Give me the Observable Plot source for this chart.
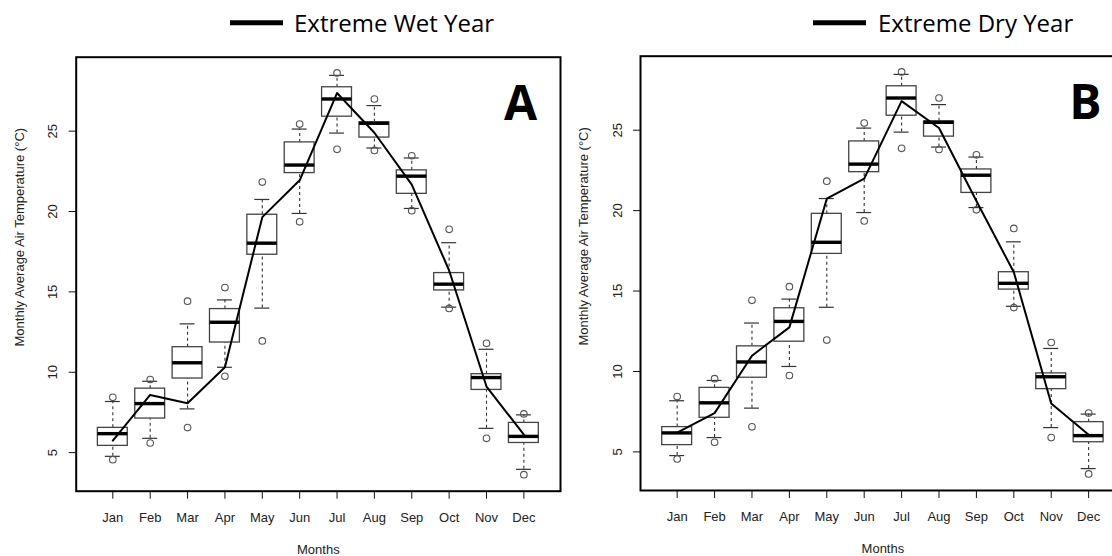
<!DOCTYPE html>
<html>
<head>
<meta charset="utf-8">
<script src="https://cdn.jsdelivr.net/npm/d3@7"></script>
<script src="https://cdn.jsdelivr.net/npm/@observablehq/plot@0.6"></script>
<style>
  html, body { margin: 0; padding: 0; background: #fff; }
  #chart { position: relative; width: 1112px; height: 556px; overflow: hidden; background: #fff; }
  #chart > svg, #chart > .panel { position: absolute; }
</style>
</head>
<body>
<div id="chart"></div>
<script>
// Month labels along the x axis
const months = ["Jan", "Feb", "Mar", "Apr", "May", "Jun", "Jul", "Aug", "Sep", "Oct", "Nov", "Dec"];

// Box-plot summary of monthly average air temperature (°C)
const lowWhisker  = [4.77, 5.89, 7.72, 10.31, 13.99, 19.88, 24.88, 23.95, 20.19, 14.05, 6.51, 3.96];
const lowerQuart  = [5.42, 7.12, 9.61, 11.85, 17.31, 22.39, 25.90, 24.60, 21.10, 15.09, 8.90, 5.60];
const medianTemp  = [6.18, 8.05, 10.59, 13.11, 18.03, 22.89, 27.00, 25.49, 22.20, 15.48, 9.67, 6.01];
const upperQuart  = [6.54, 8.98, 11.56, 13.93, 19.80, 24.30, 27.73, 25.55, 22.56, 16.17, 9.88, 6.85];
const highWhisker = [8.18, 9.44, 13.01, 14.50, 20.75, 25.13, 28.47, 26.59, 23.33, 18.06, 11.43, 7.35];

// Outlying years for each month: [high, low]
const outlierHigh = [8.44, 9.55, 14.42, 15.27, 21.83, 25.44, 28.62, 27.00, 23.47, 18.89, 11.80, 7.41];
const outlierLow  = [4.56, 5.60, 6.56, 9.75, 11.95, 19.36, 23.87, 23.80, 20.05, 13.97, 5.89, 3.63];

// Monthly temperature in the two extreme years
const wetYear = [5.75, 8.59, 8.07, 10.31, 19.65, 21.94, 27.37, 24.90, 21.67, 16.33, 9.11, 6.12];
const dryYear = [6.20, 7.41, 10.98, 12.74, 20.74, 21.99, 26.81, 25.14, 20.60, 16.17, 8.01, 6.06];

// Y-axis ticks
const yTicks = [5, 10, 15, 20, 25];

const yTitle = "Monthly Average Air Temperature (°C)";
const xTitle = "Months";

const stats = months.map((m, k) => ({
  i: k + 1,
  lo: lowWhisker[k], q1: lowerQuart[k], med: medianTemp[k], q3: upperQuart[k], hi: highWhisker[k]
}));
const outliers = months.flatMap((m, k) => [
  {i: k + 1, v: outlierHigh[k]},
  {i: k + 1, v: outlierLow[k]}
]);

const FONT = "'Liberation Sans', Arial, Helvetica, sans-serif";
const halfBox = 0.4, halfCap = 0.2;

function panel(series, tag, m) {
  const line = series.map((v, k) => ({i: k + 1, v}));
  return Plot.plot({
    width: m.width,
    height: 516,
    marginTop: m.top,
    marginBottom: m.bottom,
    marginLeft: m.left,
    marginRight: m.right,
    style: `font-family:${FONT};font-size:13px;color:#222;background:transparent;max-width:none;overflow:visible;`,
    x: {domain: [0.02, 12.98]},
    y: {domain: [2.6, 29.6]},
    marks: [
      Plot.axisX(d3.range(1, 13), {
        tickFormat: i => months[i - 1], tickSize: 8, tickPadding: 13.5,
        fontSize: 13, label: null, stroke: "#111", strokeWidth: 1
      }),
      Plot.axisY(yTicks, {
        tickRotate: -90, tickSize: 7, tickPadding: 12,
        fontSize: 13, label: null, stroke: "#111", strokeWidth: 1
      }),
      // whiskers
      Plot.ruleX(stats, {x: "i", y1: "q3", y2: "hi", stroke: "#333", strokeWidth: 1.1, strokeDasharray: "3,3"}),
      Plot.ruleX(stats, {x: "i", y1: "lo", y2: "q1", stroke: "#333", strokeWidth: 1.1, strokeDasharray: "3,3"}),
      // whisker caps
      Plot.ruleY(stats, {y: "hi", x1: d => d.i - halfCap, x2: d => d.i + halfCap, stroke: "#333", strokeWidth: 1.2}),
      Plot.ruleY(stats, {y: "lo", x1: d => d.i - halfCap, x2: d => d.i + halfCap, stroke: "#333", strokeWidth: 1.2}),
      // boxes
      Plot.rect(stats, {x1: d => d.i - halfBox, x2: d => d.i + halfBox, y1: "q1", y2: "q3",
        fill: "white", stroke: "#444", strokeWidth: 1.3}),
      // medians
      Plot.ruleY(stats, {y: "med", x1: d => d.i - halfBox, x2: d => d.i + halfBox, stroke: "#000", strokeWidth: 3.4}),
      // outliers
      Plot.dot(outliers, {x: "i", y: "v", r: 3.3, stroke: "#555", strokeWidth: 1.1, fill: "none"}),
      // extreme-year line
      Plot.line(line, {x: "i", y: "v", stroke: "#000", strokeWidth: 2}),
      Plot.frame({stroke: "#000", strokeWidth: 2}),
      // axis titles
      Plot.text([yTitle], {frameAnchor: "left", text: d => d, rotate: -90, dx: -56.7, dy: -37,
        fontSize: 13, fill: "#222", textAnchor: "middle", lineAnchor: "middle"}),
      Plot.text([xTitle], {frameAnchor: "bottom", text: d => d, dy: 58.8,
        fontSize: 13, fill: "#222", textAnchor: "middle", lineAnchor: "middle"}),
      // panel tag
      Plot.text([tag], {frameAnchor: "top-right", text: d => d, dx: m.tagDx, dy: 47.5,
        fontSize: 48, fontWeight: 700, fontFamily: "'Open Sans', sans-serif", fill: "#000",
        textAnchor: "middle", lineAnchor: "middle"})
    ]
  });
}

const chart = document.getElementById("chart");

const left = panel(wetYear, "A", {width: 570, left: 75.7, right: 10, top: 16.7, bottom: 65.3, tagDx: -40});
left.style.left = "0px"; left.style.top = "40px";
chart.appendChild(left);

const right = panel(dryYear, "B", {width: 564.8, left: 70, right: 10, top: 15.7, bottom: 66, tagDx: -39.8});
right.style.left = "570px"; right.style.top = "40px";
chart.appendChild(right);

// Legends above each panel
const legend = d3.select(chart).append("svg")
  .attr("width", 1112).attr("height", 40)
  .style("left", "0px").style("top", "0px");
const legendItems = [
  {label: "Extreme Wet Year", x0: 230, x1: 283, tx: 294},
  {label: "Extreme Dry Year", x0: 813, x1: 866, tx: 878}
];
for (const d of legendItems) {
  legend.append("line")
    .attr("x1", d.x0).attr("x2", d.x1).attr("y1", 22.7).attr("y2", 22.7)
    .attr("stroke", "#000").attr("stroke-width", 5);
  legend.append("text")
    .attr("x", d.tx).attr("y", 32.3)
    .attr("font-family", "'Open Sans', sans-serif").attr("font-size", 24)
    .attr("fill", "#000").text(d.label);
}
</script>
</body>
</html>
